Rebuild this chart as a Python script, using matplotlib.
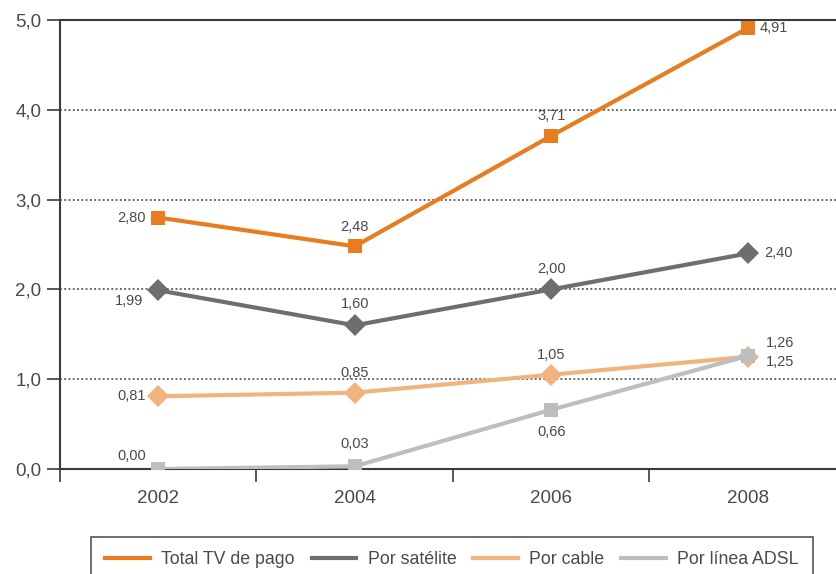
import matplotlib
matplotlib.use("Agg")
import matplotlib.pyplot as plt
from matplotlib.ticker import FixedLocator

plt.rcParams["font.family"] = ["Liberation Sans", "DejaVu Sans"]

years = ["2002", "2004", "2006", "2008"]
total_tv = [2.80, 2.48, 3.71, 4.91]
satelite = [1.99, 1.60, 2.00, 2.40]
cable = [0.81, 0.85, 1.05, 1.25]
adsl = [0.00, 0.03, 0.66, 1.26]

# label offsets in points (dx, dy) per series
total_off = [(-19, 0), (0, 14), (0, 14), (19, 0)]
sat_off = [(-21, -8), (0, 15), (0, 15), (22, 0)]
cable_off = [(-19, 0), (0, 14), (0, 14), (23, -4)]
adsl_off = [(-19, 9), (0, 16), (0, -16), (23, 9)]

TEXT = "#4a4a4a"
AXIS = "#3c3a3b"

fig = plt.figure(figsize=(8.37, 5.74), dpi=100)
ax = fig.add_axes([60 / 837, 1 - 469 / 574, 786 / 837, 449 / 574])

x = range(len(years))
series = [
    ("Total TV de pago", total_tv, "#e87c1e", "s", 10.5, total_off),
    ("Por satélite", satelite, "#6d6e70", "D", 11, sat_off),
    ("Por cable", cable, "#f2b47f", "D", 11, cable_off),
    ("Por línea ADSL", adsl, "#bdbec0", "s", 10.5, adsl_off),
]
for name, vals, color, mk, ms, offs in series:
    ax.plot(x, vals, color=color, lw=3.0, marker=mk, markersize=ms,
            markeredgewidth=0, label=name, solid_joinstyle="miter", zorder=3)
    for xi, v, (dx, dy) in zip(x, vals, offs):
        ax.annotate(f"{v:.2f}".replace(".", ","), (xi, v), xytext=(dx, dy),
                    textcoords="offset points", ha="center", va="center",
                    fontsize=10.5, color=TEXT, zorder=4)

ax.set_xlim(-0.5, 3.5)
ax.set_ylim(0, 5)

ax.set_yticks([0, 1, 2, 3, 4, 5])
ax.set_yticklabels([f"{v:.1f}".replace(".", ",") for v in range(6)])
ax.set_xticks(list(x))
ax.set_xticklabels(years)
ax.xaxis.set_minor_locator(FixedLocator([-0.5, 0.5, 1.5, 2.5]))

ax.tick_params(axis="y", direction="out", length=9.5, width=1.2, color=AXIS,
               labelsize=13.5, labelcolor=TEXT, pad=4)
ax.tick_params(axis="x", which="major", length=0, labelsize=13.5,
               labelcolor=TEXT, pad=15)
ax.tick_params(axis="x", which="minor", direction="out", length=9,
               width=1.2, color=AXIS)

for y in [1, 2, 3, 4]:
    ax.axhline(y, color=AXIS, lw=1.1, linestyle=(0, (1.2, 1.6)), zorder=1)

for side in ["left", "top", "bottom"]:
    ax.spines[side].set_color(AXIS)
    ax.spines[side].set_linewidth(1.5)
ax.spines["right"].set_visible(False)

leg = fig.legend(loc="upper left", bbox_to_anchor=(91 / 837, 1 - 537 / 574),
                 ncol=4, frameon=True, fancybox=False, fontsize=12.8,
                 handlelength=2.5, columnspacing=0.95, handletextpad=0.65,
                 borderpad=0.8, borderaxespad=0)
leg.get_frame().set_edgecolor("#2a2a2a")
leg.get_frame().set_linewidth(1.2)
for line in leg.get_lines():
    line.set_marker("")
    line.set_linewidth(3.0)
for t in leg.get_texts():
    t.set_color(TEXT)

fig.savefig("out.png", dpi=100)
